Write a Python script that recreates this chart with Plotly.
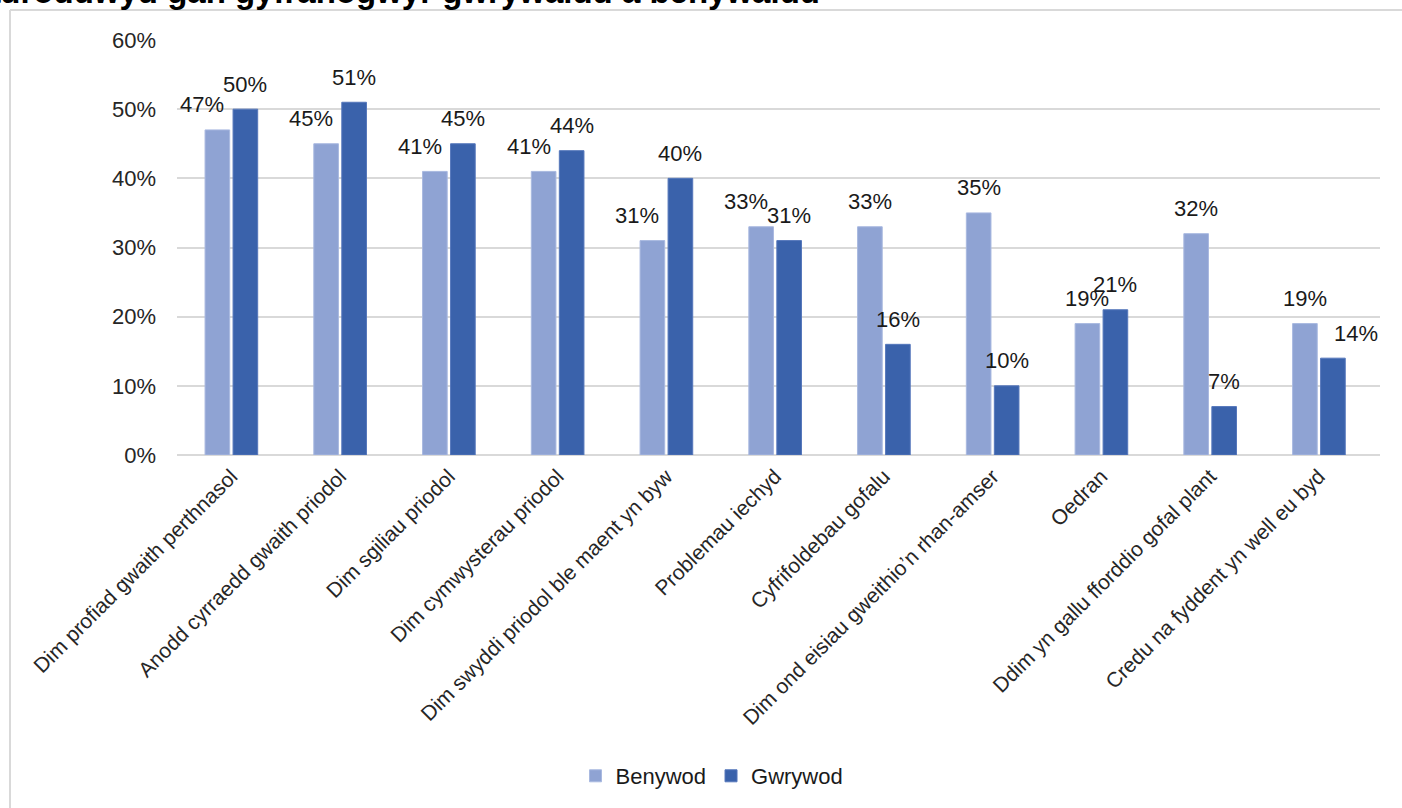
import plotly.graph_objects as go

categories = [
    "Dim profiad gwaith perthnasol",
    "Anodd cyrraedd gwaith priodol",
    "Dim sgiliau priodol",
    "Dim cymwysterau priodol",
    "Dim swyddi priodol ble maent yn byw",
    "Problemau iechyd",
    "Cyfrifoldebau gofalu",
    "Dim ond eisiau gweithio’n rhan-amser",
    "Oedran",
    "Ddim yn gallu fforddio gofal plant",
    "Credu na fyddent yn well eu byd",
]
benywod = [0.47, 0.45, 0.41, 0.41, 0.31, 0.33, 0.33, 0.35, 0.19, 0.32, 0.19]
gwrywod = [0.50, 0.51, 0.45, 0.44, 0.40, 0.31, 0.16, 0.10, 0.21, 0.07, 0.14]
title_text = "adroddwyd gan gyfranogwyr gwrywaidd a benywaidd"
y_ticks = [0, 0.1, 0.2, 0.3, 0.4, 0.5, 0.6]

FONT = "Liberation Sans, Arial, sans-serif"
W, H = 1402, 808
L, R, T, B = 177, 22, 40, 353
pw, ph = W - L - R, H - T - B
LIGHT, DARK = "#8FA3D3", "#3A62AB"
LABEL_FONT = dict(size=22, color="#1a1a1a", family=FONT)

def px_x(px):
    return (px - L) / pw

def px_y(py):
    return (H - B - py) / ph

fig = go.Figure()
fig.add_trace(go.Bar(
    name="Benywod", x=categories, y=benywod, offsetgroup="b",
    marker=dict(color=LIGHT, line=dict(color="#A9B9E0", width=1)),
))
fig.add_trace(go.Bar(
    name="Gwrywod", x=categories, y=gwrywod, offsetgroup="g",
    marker=dict(color=DARK, line=dict(color="#5577BB", width=1)),
))

# data labels above bars (Excel "outside end" style, nudged apart when crowded)
slot = pw / len(categories) * (1 - 0.485) / 2  # px distance between bar centres in a group
for cat, vb, vg in zip(categories, benywod, gwrywod):
    d = round(vg - vb, 4)
    nudge_light = (0.02 < d <= 0.09) or (-0.02 <= d <= 0)
    nudge_dark = -0.09 <= d < -0.02
    fig.add_annotation(x=cat, y=vb, xref="x", yref="y", text=f"{vb*100:.0f}%",
                       showarrow=False, xanchor="center", yanchor="middle",
                       xshift=-slot / 2 - (15 if nudge_light else 0), yshift=25, font=LABEL_FONT)
    fig.add_annotation(x=cat, y=vg, xref="x", yref="y", text=f"{vg*100:.0f}%",
                       showarrow=False, xanchor="center", yanchor="middle",
                       xshift=slot / 2 + (23 if nudge_dark else 0), yshift=25, font=LABEL_FONT)

fig.update_layout(
    width=W, height=H,
    margin=dict(l=L, r=R, t=T, b=B, autoexpand=False),
    paper_bgcolor="white", plot_bgcolor="white",
    font=dict(family=FONT, color="#262626"),
    barmode="group", bargap=0.485, bargroupgap=0.12,
    legend=dict(orientation="h", x=px_x(712), y=px_y(776), xanchor="center", yanchor="middle",
                font=dict(size=22, color="#1a1a1a"), traceorder="normal"),
    showlegend=True,
)
fig.update_yaxes(
    range=[0, 0.6], tickvals=y_ticks, tickformat=".0%",
    showgrid=True, gridcolor="#D9D9D9", gridwidth=2,
    zeroline=True, zerolinecolor="#D9D9D9", zerolinewidth=2,
    tickfont=dict(size=22, color="#262626"), ticklabelstandoff=20, showline=False,
)
fig.update_xaxes(
    tickangle=-45, tickfont=dict(size=21, color="#262626"),
    showline=False, ticks="", ticklabelstandoff=4,
)

# chart border (top and left visible)
fig.add_shape(type="line", xref="paper", yref="paper",
              x0=px_x(10), x1=px_x(1420), y0=px_y(10), y1=px_y(10),
              line=dict(color="#D9D9D9", width=2))
fig.add_shape(type="line", xref="paper", yref="paper",
              x0=px_x(10), x1=px_x(10), y0=px_y(10), y1=px_y(830),
              line=dict(color="#D9D9D9", width=2))

fig.add_annotation(text=f"<b>{title_text}</b>", xref="paper", yref="paper",
                   x=px_x(822), y=px_y(12), xanchor="right", yanchor="bottom",
                   showarrow=False, font=dict(size=33, color="#000000", family=FONT))

fig.write_html("out.html", config={"displayModeBar": False},
               post_script="document.body.style.margin='0';document.body.style.overflow='hidden';")
